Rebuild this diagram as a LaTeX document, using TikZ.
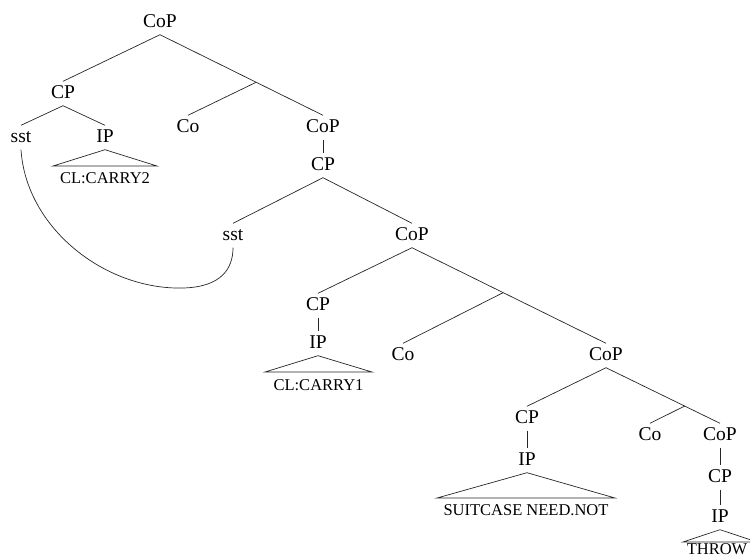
\documentclass[tikz,border=0pt]{standalone}
\usepackage{fontspec}
\setmainfont{Liberation Serif}
\usetikzlibrary{calc}
\begin{document}
\begin{tikzpicture}[x=1pt,y=-1pt,
  lbl/.style={anchor=base, font=\fontsize{19.5}{22}\selectfont, inner xsep=1pt, inner ysep=3.5pt, text height=13pt, text depth=4pt},
  leaf/.style={anchor=base, font=\fontsize{16.5}{18}\selectfont, inner sep=0pt},
  edge/.style={line width=0.7pt, draw=black!85},
]
\clip (0,0) rectangle (750,558);
% labels
\node[lbl] (root) at (160,27) {CoP};
\node[lbl] (cp1) at (63,98) {CP};
\node[lbl] (co1) at (188,132) {Co};
\node[lbl] (cop2) at (323,132) {CoP};
\node[lbl] (cp2) at (323,170) {CP};
\node[lbl] (sst1) at (21,142) {sst};
\node[lbl] (ip1) at (105,142) {IP};
\node[lbl] (sst2) at (233,240) {sst};
\node[lbl] (cop3) at (412,240) {CoP};
\node[lbl] (cp3) at (318,310) {CP};
\node[lbl] (ip3) at (318,348) {IP};
\node[lbl] (co3) at (403,360) {Co};
\node[lbl] (cop4) at (606,360) {CoP};
\node[lbl] (cp4) at (527,423) {CP};
\node[lbl] (ip4) at (527,465) {IP};
\node[lbl] (co4) at (650,440) {Co};
\node[lbl] (cop5) at (720,440) {CoP};
\node[lbl] (cp5) at (720,482) {CP};
\node[lbl] (ip5) at (720,522) {IP};
% leaf texts
\node[leaf] (t1) at (105,183) {CL:CARRY2};
\node[leaf] (t2) at (318.5,390) {CL:CARRY1};
\node[leaf] (t3) at (526,515) {SUITCASE NEED.NOT};
\node[leaf] (t4) at (717,554) {THROW};
% branches
\draw[edge] (root.south) -- (cp1.north);
\draw[edge] (root.south) -- (cop2.north);
\coordinate (j1) at ($(root.south)!0.59!(cop2.north)$);
\draw[edge] (j1) -- (co1.north);
\draw[edge] (cp1.south) -- (sst1.north);
\draw[edge] (cp1.south) -- (ip1.north);
\draw[edge] (cop2.south) -- (cp2.north);
\draw[edge] (cp2.south) -- (sst2.north);
\draw[edge] (cp2.south) -- (cop3.north);
\draw[edge] (cop3.south) -- (cp3.north);
\draw[edge] (cop3.south) -- (cop4.north);
\coordinate (j2) at ($(cop3.south)!0.47!(cop4.north)$);
\draw[edge] (j2) -- (co3.north);
\draw[edge] (cp3.south) -- (ip3.north);
\draw[edge] (cop4.south) -- (cp4.north);
\draw[edge] (cop4.south) -- (cop5.north);
\coordinate (j3) at ($(cop4.south)!0.69!(cop5.north)$);
\draw[edge] (j3) -- (co4.north);
\draw[edge] (cp4.south) -- (ip4.north);
\draw[edge] (cop5.south) -- (cp5.north);
\draw[edge] (cp5.south) -- (ip5.north);
% triangles
\draw[edge] (ip1.south) -- (53,166) -- (157,166) -- cycle;
\draw[edge] (ip3.south) -- (265,372) -- (372,372) -- cycle;
\draw[edge] (ip4.south) -- (437,498) -- (615,498) -- cycle;
\draw[edge] (ip5.south) -- (683,542) -- (757,542) -- cycle;
% curve linking the two sst
\coordinate (bend) at (183,288);
\draw[edge] (sst1.south) .. controls (26,228) and (105,290) .. (bend) .. controls (222,287) and (233,268) .. (sst2.south);
\end{tikzpicture}
\end{document}
